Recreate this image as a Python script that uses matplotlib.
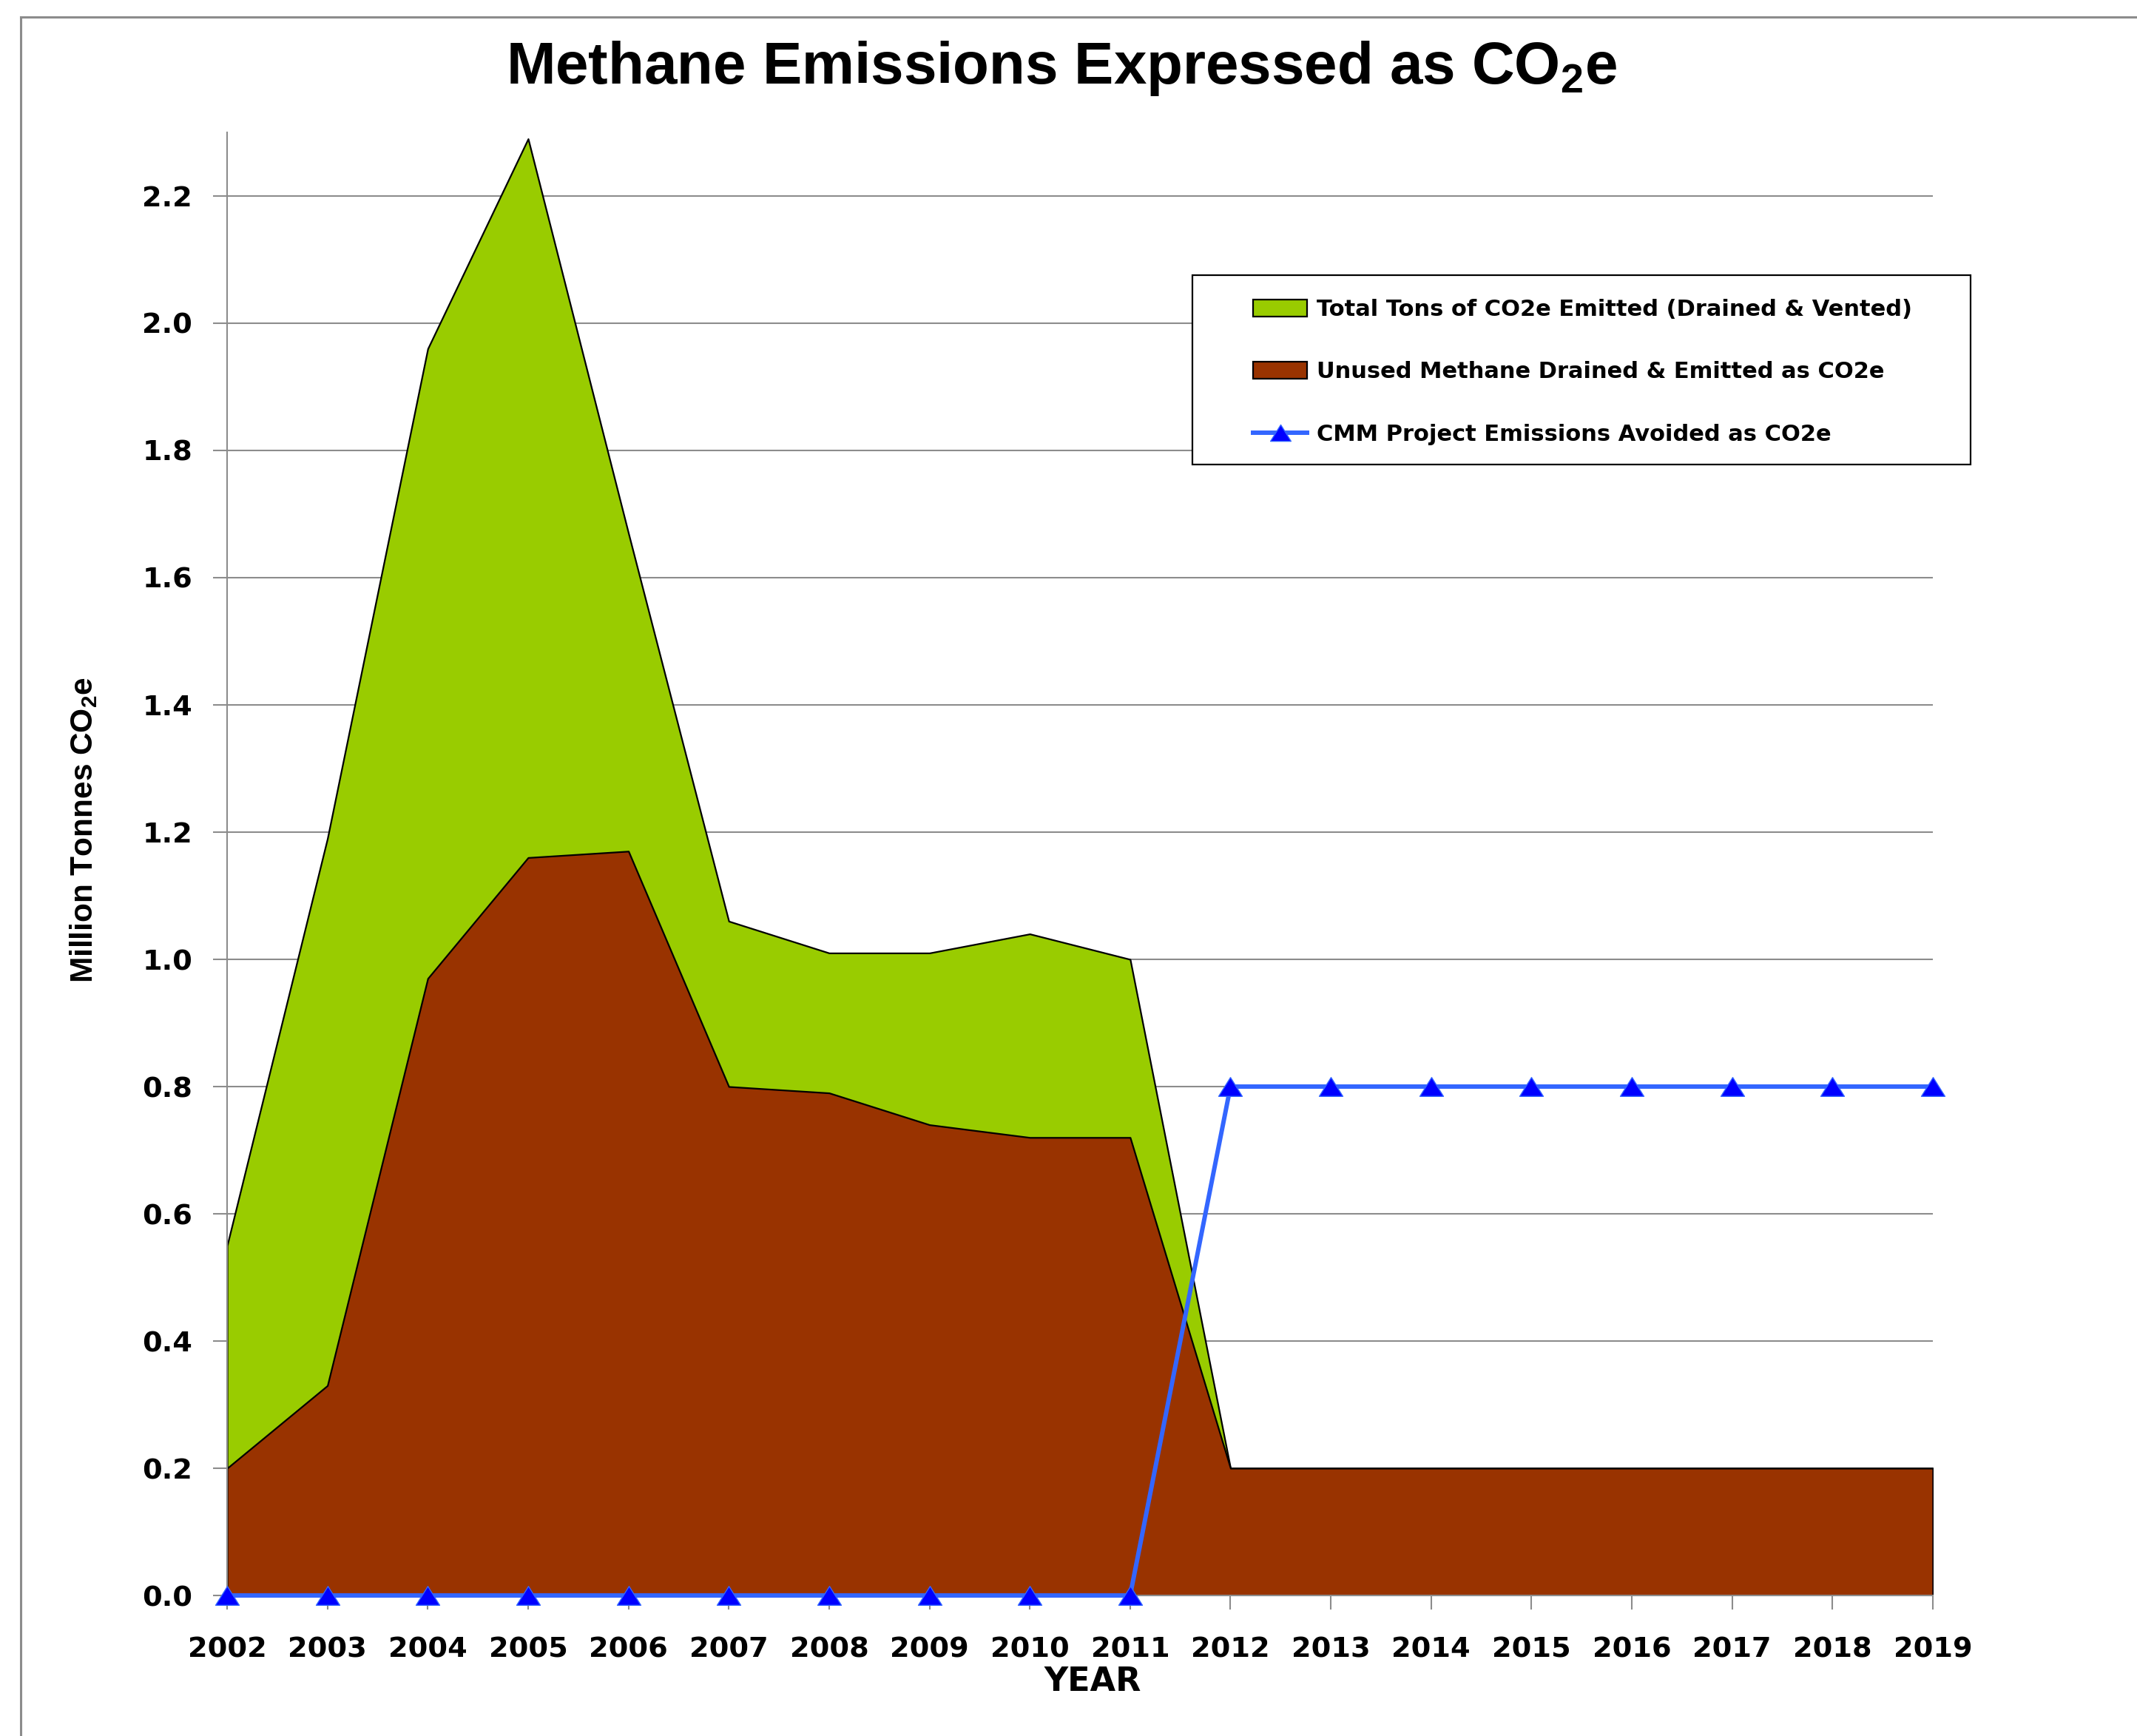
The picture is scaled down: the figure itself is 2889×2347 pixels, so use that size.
import matplotlib
matplotlib.use("Agg")
import matplotlib.pyplot as plt
from matplotlib import font_manager as fm
from matplotlib.lines import Line2D
from matplotlib.patches import Patch, Rectangle
from matplotlib.path import Path

# ---------------- data ----------------
years = [2002, 2003, 2004, 2005, 2006, 2007, 2008, 2009, 2010,
         2011, 2012, 2013, 2014, 2015, 2016, 2017, 2018, 2019]
total_emitted = [0.55, 1.19, 1.96, 2.29, 1.67, 1.06, 1.01, 1.01, 1.04,
                 1.00, 0.20, 0.20, 0.20, 0.20, 0.20, 0.20, 0.20, 0.20]
unused_methane = [0.20, 0.33, 0.97, 1.16, 1.17, 0.80, 0.79, 0.74, 0.72,
                  0.72, 0.20, 0.20, 0.20, 0.20, 0.20, 0.20, 0.20, 0.20]
emissions_avoided = [0.0, 0.0, 0.0, 0.0, 0.0, 0.0, 0.0, 0.0, 0.0,
                     0.0, 0.8, 0.8, 0.8, 0.8, 0.8, 0.8, 0.8, 0.8]
y_ticks = [0.0, 0.2, 0.4, 0.6, 0.8, 1.0, 1.2, 1.4, 1.6, 1.8, 2.0, 2.2]

series_labels = ["Total Tons of CO2e Emitted (Drained & Vented)",
                 "Unused Methane Drained & Emitted as CO2e",
                 "CMM Project Emissions Avoided as CO2e"]
title = "Methane Emissions Expressed as CO$_2$e"
ylabel = "Million Tonnes CO$_2$e"
xlabel = "YEAR"

# ---------------- style ----------------
GREEN = "#99CC00"
RED = "#993300"
BLUE_LINE = "#3366FF"
BLUE_MARK = "#0000FF"
GRAY = "#8C8C8C"

W, H = 2889, 2347
plt.rcParams["mathtext.fontset"] = "custom"
plt.rcParams["mathtext.rm"] = "Liberation Sans:bold"
plt.rcParams["mathtext.it"] = "Liberation Sans:bold"
plt.rcParams["mathtext.bf"] = "Liberation Sans:bold"

names = {f.name for f in fm.fontManager.ttflist}
if "Liberation Sans Narrow" in names:
    ylab_family, ylab_size = "Liberation Sans Narrow", 37
else:
    ylab_family, ylab_size = "Liberation Sans", 30.5

fig = plt.figure(figsize=(W / 100, H / 100), dpi=100)
fig.patch.set_facecolor("white")

ax = fig.add_axes([307 / W, 1 - 2157 / H, (2613 - 307) / W, (2157 - 179) / H])
ax.set_xlim(2002, 2019)
ax.set_ylim(0, 2.3)

ax.fill_between(years, 0, total_emitted, facecolor=GREEN, edgecolor="black",
                linewidth=1.6, zorder=2)
ax.fill_between(years, 0, unused_methane, facecolor=RED, edgecolor="black",
                linewidth=1.6, zorder=2.1)

tri = Path([(-1, -0.8), (1, -0.8), (0, 0.8), (-1, -0.8)],
           [Path.MOVETO, Path.LINETO, Path.LINETO, Path.CLOSEPOLY])
ax.plot(years, emissions_avoided, color=BLUE_LINE, linewidth=4.3,
        marker=tri, markersize=23, markerfacecolor=BLUE_MARK,
        markeredgecolor=BLUE_LINE, markeredgewidth=1.0, zorder=4, clip_on=False)

# grid
ax.set_yticks(y_ticks)
ax.set_yticklabels([f"{v:.1f}" for v in y_ticks])
ax.set_xticks(years)
ax.set_xticklabels([str(y) for y in years])
ax.yaxis.grid(True, color=GRAY, linewidth=1.5, zorder=0)
ax.set_axisbelow(True)

for s in ["top", "right"]:
    ax.spines[s].set_visible(False)
for s in ["left", "bottom"]:
    ax.spines[s].set_color(GRAY)
    ax.spines[s].set_linewidth(1.5)
    ax.spines[s].set_zorder(3)

ax.tick_params(axis="both", which="major", direction="out", length=13.7,
               width=1.5, color=GRAY, labelsize=27.5)
ax.tick_params(axis="x", pad=26)
ax.tick_params(axis="y", pad=20)
for lab in ax.get_xticklabels() + ax.get_yticklabels():
    lab.set_fontfamily("DejaVu Sans")
    lab.set_fontweight("bold")

# title & labels
fig.text(0.497, 1 - 113 / H, title, ha="center", va="baseline",
         fontsize=57.5, fontweight="bold", family="Liberation Sans")
fig.text(1477 / W, 1 - 2286 / H, xlabel, ha="center", va="baseline",
         fontsize=32, fontweight="bold", family="DejaVu Sans")
fig.text(113 / W, 1 - 1122 / H, ylabel, ha="center", va="center", rotation=90,
         fontsize=ylab_size, fontweight="bold", family=ylab_family)

# legend frame + legend
fig.add_artist(Rectangle((1612 / W, 1 - 628 / H), (2664 - 1612) / W, (628 - 372) / H,
                         transform=fig.transFigure, facecolor="white",
                         edgecolor="black", linewidth=1.6, zorder=1))
handles = [Patch(facecolor=GREEN, edgecolor="black", linewidth=1.6),
           Patch(facecolor=RED, edgecolor="black", linewidth=1.6),
           Line2D([0], [0], color=BLUE_LINE, linewidth=4.3, marker=tri,
                  markersize=20, markerfacecolor=BLUE_MARK,
                  markeredgecolor=BLUE_LINE, markeredgewidth=1.0)]
leg = fig.legend(handles, series_labels, loc="upper left",
                 bbox_to_anchor=(1694 / W, 1 - 404 / H), frameon=False,
                 borderpad=0, borderaxespad=0, handlelength=2.39,
                 handleheight=0.75, handletextpad=0.42, labelspacing=1.81,
                 prop={"family": "DejaVu Sans", "weight": "bold", "size": 22})
leg.set_zorder(5)

# outer frame lines of the original image
fig.add_artist(Line2D([28 / W, 1], [1 - 23 / H, 1 - 23 / H], transform=fig.transFigure,
                      color=GRAY, linewidth=2.2))
fig.add_artist(Line2D([28 / W, 28 / W], [0, 1 - 23 / H], transform=fig.transFigure,
                      color=GRAY, linewidth=2.2))

fig.savefig("out.png", dpi=100)
